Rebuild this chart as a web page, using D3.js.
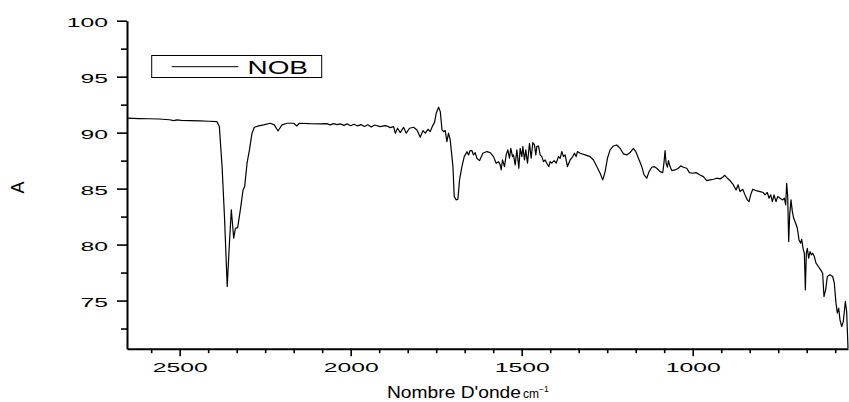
<!DOCTYPE html>
<html>
<head>
<meta charset="utf-8">
<script src="https://cdn.jsdelivr.net/npm/d3@7"></script>
<style>
  body { margin: 0; background: #fff; }
  svg { display: block; font-family: "Liberation Sans", Arial, sans-serif; }
</style>
</head>
<body>
<div id="chart"></div>
<script>
// IR spectrum (wavenumber in cm-1, value A)
var wavenumber = [
  2653, 2620, 2590, 2560, 2530, 2517, 2508, 2495, 2470, 2440, 2415, 2391,
  2384, 2376, 2369, 2361, 2355.6, 2349, 2342, 2337, 2330.5, 2322.6, 2314.7, 2310,
  2303, 2296, 2288.5, 2281.7, 2269, 2254.6, 2235, 2223.3, 2212.5, 2200.8, 2186, 2167,
  2157, 2150, 2120, 2089, 2070, 2060, 2050, 2040, 2030, 2020, 2010, 2000,
  1990, 1980, 1970, 1960, 1950, 1940, 1930, 1913.5, 1900, 1894, 1884, 1874.5,
  1869.7, 1863, 1855, 1845.5, 1837.6, 1828, 1816, 1806.3, 1796.6, 1788.8, 1782, 1774,
  1767.5, 1760.7, 1755, 1750, 1743, 1738, 1733, 1728.6, 1723.6, 1718.7, 1714, 1709,
  1701, 1697.3, 1691.5, 1686.5, 1681.8, 1674.8, 1668, 1660, 1655.5, 1650.6, 1645.7, 1640.9,
  1636, 1631.1, 1623.3, 1613.6, 1601.9, 1592.2, 1582.4, 1574.6, 1567.8, 1562.9, 1560, 1556.1,
  1550.3, 1545.4, 1540.5, 1535.7, 1531.8, 1526.9, 1524, 1519.1, 1514.2, 1508.4, 1504.5, 1499.6,
  1496.7, 1491.8, 1488, 1483.1, 1477.2, 1472.4, 1467.5, 1462.6, 1458.7, 1455.8, 1450.9, 1446.1,
  1441.2, 1436.3, 1431.5, 1426.6, 1420.7, 1416.9, 1412, 1405.2, 1399.3, 1392.5, 1387.6, 1382.8,
  1377.9, 1373, 1366.2, 1362.3, 1358.4, 1350.6, 1345.7, 1340.9, 1337, 1329.2, 1314.6, 1300,
  1290.2, 1280.5, 1270.7, 1263, 1256.1, 1249.3, 1241.5, 1231.8, 1222, 1212.3, 1202.6, 1192.8,
  1183.1, 1173.3, 1166.5, 1158.7, 1149, 1142.2, 1134.4, 1127.6, 1119.8, 1113, 1105.2, 1095.4,
  1087.6, 1083.7, 1080.8, 1077.8, 1074, 1071, 1066.2, 1061.3, 1051.6, 1041.8, 1035, 1027.2,
  1017.5, 1009.7, 999.9, 990.2, 978.5, 968.8, 959, 949.3, 939.5, 929.8, 920, 912.3,
  906.4, 898.6, 890.9, 881.1, 873.3, 867.5, 861.6, 853.8, 847, 840.2, 835.3, 830.5,
  824.6, 814.9, 803.2, 793.4, 788.6, 781.8, 776.9, 772, 767.1, 762.3, 756.4, 751.6,
  744.7, 736.9, 732.1, 728.2, 725.3, 722.3, 719.4, 716.5, 712.6, 708.7, 704.8, 699,
  694.1, 689.2, 684.4, 681.4, 676.6, 673.6, 670.7, 667.8, 664.9, 661, 657.1, 653.2,
  649.3, 644.4, 639.5, 632.7, 625.9, 620.1, 616.2, 611.3, 606.4, 598.6, 590.8, 586,
  581.1, 577.2, 573.3, 569.4, 564.5, 559.7, 553.8, 549.9, 546
];
var absorbance = [
  91.29, 91.26, 91.24, 91.22, 91.15, 91.08, 91.14, 91.1, 91.08, 91.05, 91.02, 90.98,
  90.54, 86.96, 82.5, 76.25, 79.53, 83.1, 80.57, 81.46, 81.52, 83.1, 84.88, 85.18,
  87.27, 88.46, 89.95, 90.48, 90.6, 90.69, 90.84, 90.69, 90.15, 90.69, 90.84, 90.84,
  90.6, 90.84, 90.8, 90.78, 90.8, 90.7, 90.8, 90.72, 90.78, 90.65, 90.78, 90.62,
  90.75, 90.6, 90.72, 90.55, 90.7, 90.5, 90.68, 90.54, 90.62, 90.6, 90.45, 90.54,
  89.95, 90.39, 90.0, 90.48, 89.95, 90.39, 90.48, 90.24, 89.59, 90.18, 89.95, 90.3,
  90.09, 90.6, 90.89, 91.73, 92.27, 91.88, 90.24, 90.09, 90.18, 89.2, 89.95, 89.35,
  86.96, 84.29, 83.99, 84.05, 85.78, 86.96, 87.86, 88.3, 88.0, 88.4, 88.4, 88.01,
  88.22, 87.71, 87.5, 88.16, 88.31, 88.22, 87.86, 87.26, 87.41, 87.12, 86.67, 87.56,
  86.97, 88.01, 88.46, 87.71, 88.6, 87.86, 88.01, 87.12, 88.46, 86.82, 88.6, 87.86,
  88.75, 87.56, 88.46, 87.27, 89.05, 87.71, 89.11, 88.9, 88.01, 88.75, 88.81, 88.01,
  87.86, 87.41, 87.56, 87.27, 86.97, 87.41, 87.27, 87.5, 87.27, 87.86, 87.71, 88.31,
  87.86, 88.01, 86.97, 87.27, 87.56, 87.86, 88.16, 87.86, 88.31, 88.16, 88.01, 87.86,
  87.56, 86.97, 86.37, 85.78, 86.52, 87.71, 88.46, 88.81, 88.9, 88.6, 88.1, 88.01,
  88.22, 88.6, 88.31, 87.71, 86.97, 86.22, 85.93, 86.52, 86.91, 86.97, 86.82, 86.52,
  86.43, 87.41, 88.39, 87.26, 86.91, 87.5, 86.97, 86.61, 86.67, 86.82, 87.03, 86.91,
  86.82, 86.43, 86.37, 86.43, 86.22, 86.07, 85.72, 85.78, 85.84, 85.93, 85.87, 86.02,
  86.19, 85.93, 85.72, 85.33, 84.88, 85.33, 84.73, 84.94, 84.44, 83.99, 83.84, 84.44,
  84.94, 84.82, 84.73, 84.65, 84.44, 84.65, 84.14, 84.44, 83.84, 84.44, 83.84, 84.29,
  84.14, 83.99, 84.14, 83.54, 85.48, 84.29, 80.27, 82.65, 83.99, 82.95, 82.35, 81.91,
  81.46, 80.42, 80.12, 80.48, 79.53, 79.23, 75.96, 79.23, 79.67, 78.78, 79.38, 79.08,
  79.23, 78.93, 78.34, 78.04, 77.74, 77.44, 75.36, 75.96, 77.15, 77.3, 77.15, 76.55,
  74.77, 73.87, 74.32, 73.28, 72.68, 73.13, 74.92, 74.02, 70.75
];

var xDomain = [2654, 546];
var yDomain = [70.7, 100];
var xMajorTicks = [2500, 2000, 1500, 1000];
var xMinorTicks = [2583.33, 2416.67, 2333.33, 2250, 2166.67, 2083.33, 1916.67, 1833.33, 1750,
                   1666.67, 1583.33, 1416.67, 1333.33, 1250, 1166.67, 1083.33, 916.67, 833.33,
                   750, 666.67, 583.33];
var yMajorTicks = [75, 80, 85, 90, 95, 100];
var yMinorTicks = [72.5, 77.5, 82.5, 87.5, 92.5, 97.5];
var seriesName = 'NOB';
var xTitle = "Nombre D'onde";
var yTitle = 'A';

var width = 849, height = 402;
var plotLeft = 127, plotRight = 848, plotTop = 20.7, plotBottom = 348.7;

var svg = d3.select('#chart').append('svg')
    .attr('width', width)
    .attr('height', height);

var x = d3.scaleLinear().domain(xDomain).range([plotLeft, plotRight]);
var y = d3.scaleLinear().domain(yDomain).range([plotBottom, plotTop]);

// the picture's text is stretched sideways, so fit every label to a width
function fitWidth(sel, perUnit) {
    sel.each(function() {
        var t = d3.select(this);
        var w = this.getComputedTextLength();
        t.attr('textLength', w * perUnit).attr('lengthAdjust', 'spacingAndGlyphs');
    });
}

// minor ticks first, so major ticks and axis line sit on top
svg.append('g')
    .attr('transform', 'translate(0,' + plotBottom + ')')
    .call(d3.axisBottom(x).tickValues(xMinorTicks).tickSize(4.5).tickFormat('').tickSizeOuter(0))
    .call(function(g) { g.select('.domain').remove(); });
svg.append('g')
    .attr('transform', 'translate(' + plotLeft + ',0)')
    .call(d3.axisLeft(y).tickValues(yMinorTicks).tickSize(6).tickFormat('').tickSizeOuter(0))
    .call(function(g) { g.select('.domain').remove(); });

var xAxis = svg.append('g')
    .attr('transform', 'translate(0,' + plotBottom + ')')
    .call(d3.axisBottom(x).tickValues(xMajorTicks).tickSize(7.5).tickSizeOuter(0).tickFormat(d3.format('d')));
xAxis.selectAll('text')
    .attr('y', 23)
    .attr('dy', null)
    .style('font-size', '13px')
    .attr('fill', '#000');

var yAxis = svg.append('g')
    .attr('transform', 'translate(' + plotLeft + ',0)')
    .call(d3.axisLeft(y).tickValues(yMajorTicks).tickSize(10).tickSizeOuter(0).tickFormat(d3.format('d')));
yAxis.selectAll('text')
    .attr('x', -19)
    .attr('y', 6.2)
    .attr('dy', null)
    .style('font-size', '13px')
    .attr('fill', '#000');

svg.selectAll('.tick line').attr('stroke', '#000').attr('stroke-width', 1.6);
svg.selectAll('.domain').attr('stroke', '#000').attr('stroke-width', 2);

fitWidth(xAxis.selectAll('text'), 1.9);
fitWidth(yAxis.selectAll('text'), 1.9);

// spectrum
var line = d3.line()
    .x(function(d) { return x(d[0]); })
    .y(function(d) { return y(d[1]); });

svg.append('path')
    .datum(d3.zip(wavenumber, absorbance))
    .attr('d', line)
    .attr('fill', 'none')
    .attr('stroke', '#000')
    .attr('stroke-width', 1.2)
    .attr('stroke-linejoin', 'round');

// legend
var legend = svg.append('g');
legend.append('rect')
    .attr('x', 151.7).attr('y', 55.5)
    .attr('width', 170).attr('height', 22)
    .attr('fill', '#fff')
    .attr('stroke', '#000')
    .attr('stroke-width', 1);
legend.append('line')
    .attr('x1', 171.7).attr('x2', 238.3)
    .attr('y1', 66.7).attr('y2', 66.7)
    .attr('stroke', '#000')
    .attr('stroke-width', 1);
legend.append('text')
    .attr('x', 247.5).attr('y', 74)
    .style('font-size', '18px')
    .text(seriesName)
    .call(fitWidth, 1.55);

// axis titles
var xt = svg.append('text')
    .attr('x', 387).attr('y', 398)
    .style('font-size', '17px');
xt.append('tspan').text(xTitle);
fitWidth(xt.select('tspan'), 1.13);
var xtEnd = 387 + xt.select('tspan').node().getComputedTextLength();
var unit = svg.append('text')
    .attr('x', xtEnd + 2).attr('y', 398)
    .style('font-size', '12px');
unit.append('tspan').text('cm');
unit.append('tspan').attr('dy', -6).style('font-size', '8.5px').text('\u22121');

svg.append('text')
    .attr('transform', 'translate(24,187.5) rotate(-90)')
    .attr('text-anchor', 'middle')
    .style('font-size', '18px')
    .text(yTitle);
</script>
</body>
</html>
